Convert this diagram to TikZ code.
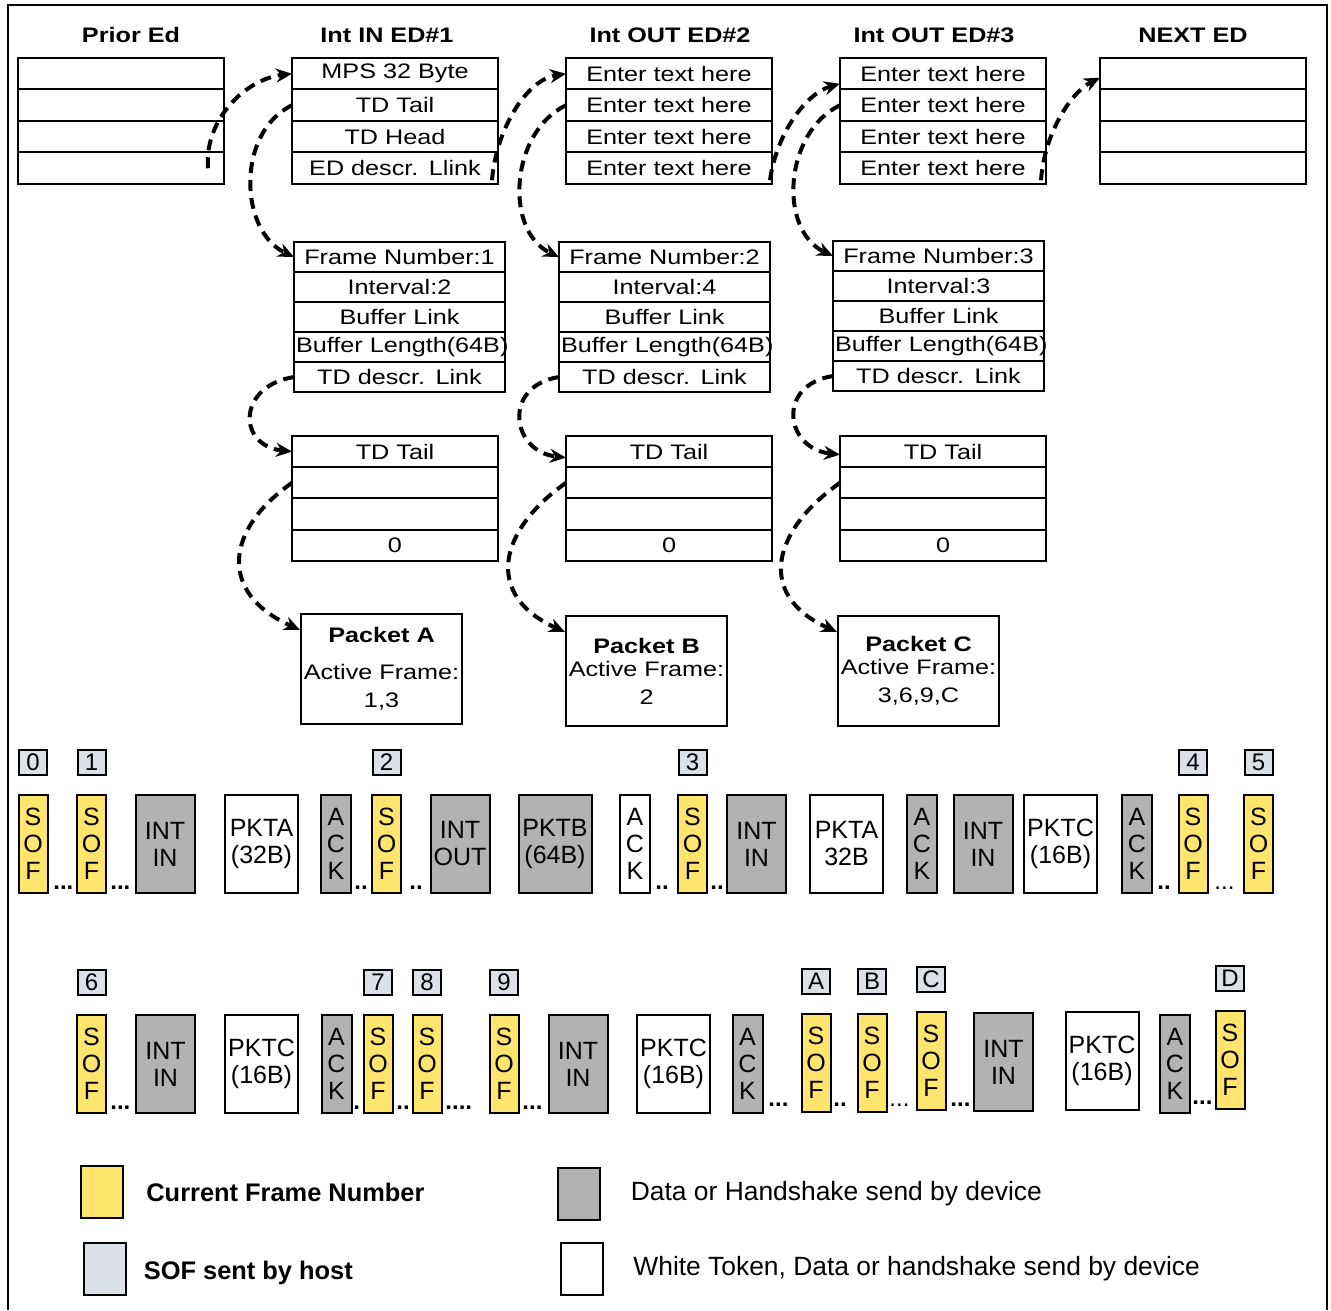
\documentclass[tikz,border=0pt]{standalone}
\usepackage{fontspec}
\setmainfont{Liberation Sans}
\newfontfamily\widefont[FakeStretch=1.2]{Liberation Sans}
\usepackage{tikz}
\usetikzlibrary{arrows.meta,positioning}

\definecolor{curyellow}{RGB}{255,228,110}
\definecolor{devgray}{RGB}{178,178,178}
\definecolor{hostgray}{RGB}{220,225,232}

\begin{document}
\begin{tikzpicture}[
                x=0.5pt, y=-0.5pt,
                font=\widefont\fontsize{10.5}{14}\selectfont,
                edrow/.style={draw, line width=1pt, outer sep=0pt, inner xsep=1pt, inner ysep=0pt, text width=101pt, align=center, minimum height=15.75pt},
                tdrow/.style={edrow, text width=103.5pt, minimum height=15pt},
                tailrow/.style={edrow, minimum height=15.6pt},
                edtitle/.style={font=\widefont\bfseries\fontsize{10.5}{12}\selectfont},
                pkt/.style={draw, line width=1pt, anchor=north west, minimum width=80.5pt, minimum height=55pt, text width=78.5pt, inner xsep=1pt, align=center},
                link/.style={-{Stealth[length=8pt,width=7pt]}, line width=2pt, dash pattern=on 5.5pt off 3.5pt},
                slot/.style={draw, line width=1pt, outer sep=0pt, inner sep=0pt, minimum height=49pt, align=center, font=\fontsize{12.5}{13.5}\selectfont},
                sofbox/.style={slot, fill=curyellow, minimum width=14.5pt},
                devbox/.style={slot, fill=devgray},
                tokbox/.style={slot, fill=white},
                ackw/.style={minimum width=15pt},
                intw/.style={minimum width=29.5pt},
                pktw/.style={minimum width=36.5pt},
                frameno/.style={draw, line width=1pt, fill=hostgray, minimum width=14pt, minimum height=12.5pt, inner sep=0pt, font=\fontsize{12}{12}\selectfont},
                idle/.style={anchor=base west, inner sep=0pt, font=\bfseries\fontsize{12}{12}\selectfont},
                swatch/.style={draw, line width=1pt, minimum width=21pt, minimum height=26pt},
                keytext/.style={inner sep=0pt, font=\fontsize{13.2}{15}\selectfont},
                keybold/.style={inner sep=0pt, font=\bfseries\fontsize{12.7}{15}\selectfont}
            ]
            \useasboundingbox (0,0) rectangle (1331,1310);
            \draw[line width=0.75pt] (8,1310) -- (8,5) -- (1327,5) -- (1327,1310);

            % endpoint descriptors
            \node[edtitle] (tprior) at (131,35) {Prior Ed};
            \node[edtitle] (tin) at (387,35) {Int IN ED\#1};
            \node[edtitle] (touta) at (670,35) {Int OUT ED\#2};
            \node[edtitle] (toutb) at (934,35) {Int OUT ED\#3};
            \node[edtitle] (tnext) at (1193,35) {NEXT ED};

            \node[edrow, anchor=north west] (prior1) at (18,58) {};
            \node[edrow, below=0pt of prior1] (prior2) {};
            \node[edrow, below=0pt of prior2] (prior3) {};
            \node[edrow, below=0pt of prior3] (prior4) {};

            \node[edrow, anchor=north west] (in1) at (292,58) {MPS 32 Byte};
            \node[edrow, below=0pt of in1] (in2) {TD Tail};
            \node[edrow, below=0pt of in2] (in3) {TD Head};
            \node[edrow, below=0pt of in3] (in4) {ED descr. Llink};

            \node[edrow, anchor=north west] (outa1) at (566,58) {Enter text here};
            \node[edrow, below=0pt of outa1] (outa2) {Enter text here};
            \node[edrow, below=0pt of outa2] (outa3) {Enter text here};
            \node[edrow, below=0pt of outa3] (outa4) {Enter text here};

            \node[edrow, anchor=north west] (outb1) at (840,58) {Enter text here};
            \node[edrow, below=0pt of outb1] (outb2) {Enter text here};
            \node[edrow, below=0pt of outb2] (outb3) {Enter text here};
            \node[edrow, below=0pt of outb3] (outb4) {Enter text here};

            \node[edrow, anchor=north west] (next1) at (1100,58) {};
            \node[edrow, below=0pt of next1] (next2) {};
            \node[edrow, below=0pt of next2] (next3) {};
            \node[edrow, below=0pt of next3] (next4) {};

            % transfer descriptors
            \node[tdrow, anchor=north west] (tdA1) at (294,242) {Frame Number:1};
            \node[tdrow, below=0pt of tdA1] (tdA2) {Interval:2};
            \node[tdrow, below=0pt of tdA2] (tdA3) {Buffer Link};
            \node[tdrow, below=0pt of tdA3] (tdA4) {\mbox{Buffer Length(64B)}};
            \node[tdrow, below=0pt of tdA4] (tdA5) {TD descr. Link};

            \node[tdrow, anchor=north west] (tdB1) at (559,242) {Frame Number:2};
            \node[tdrow, below=0pt of tdB1] (tdB2) {Interval:4};
            \node[tdrow, below=0pt of tdB2] (tdB3) {Buffer Link};
            \node[tdrow, below=0pt of tdB3] (tdB4) {\mbox{Buffer Length(64B)}};
            \node[tdrow, below=0pt of tdB4] (tdB5) {TD descr. Link};

            \node[tdrow, anchor=north west] (tdC1) at (833,241) {Frame Number:3};
            \node[tdrow, below=0pt of tdC1] (tdC2) {Interval:3};
            \node[tdrow, below=0pt of tdC2] (tdC3) {Buffer Link};
            \node[tdrow, below=0pt of tdC3] (tdC4) {\mbox{Buffer Length(64B)}};
            \node[tdrow, below=0pt of tdC4] (tdC5) {TD descr. Link};

            \node[tailrow, anchor=north west] (tailA1) at (292,436) {TD Tail};
            \node[tailrow, below=0pt of tailA1] (tailA2) {};
            \node[tailrow, below=0pt of tailA2] (tailA3) {};
            \node[tailrow, below=0pt of tailA3] (tailA4) {0};

            \node[tailrow, anchor=north west] (tailB1) at (566,436) {TD Tail};
            \node[tailrow, below=0pt of tailB1] (tailB2) {};
            \node[tailrow, below=0pt of tailB2] (tailB3) {};
            \node[tailrow, below=0pt of tailB3] (tailB4) {0};

            \node[tailrow, anchor=north west] (tailC1) at (840,436) {TD Tail};
            \node[tailrow, below=0pt of tailC1] (tailC2) {};
            \node[tailrow, below=0pt of tailC2] (tailC3) {};
            \node[tailrow, below=0pt of tailC3] (tailC4) {0};

            \node[pkt] (pktA) at (300,613) {\textbf{Packet A}\\[4.5pt]Active Frame:\\1,3};
            \node[pkt] (pktB) at (565,615) {\textbf{Packet B}\\[-2.5pt]Active Frame:\\2};
            \node[pkt] (pktC) at (837,615) {\textbf{Packet C}\\[-2.5pt]Active Frame:\\3,6,9,C};

            % pointers
            \draw[link] ([xshift=-8pt]prior4.east) .. controls +(-4,-50) and +(-45,5) .. (in1.west);
            \draw[link] (in2.west) .. controls +(-56,27) and +(-55,-26) .. (tdA1.west);
            \draw[link] ([xshift=-3pt,yshift=-6pt]in4.east) .. controls +(4,-50) and +(-40,6) .. (outa1.west);
            \draw[link] (outa2.west) .. controls +(-56,27) and +(-55,-26) .. (tdB1.west);
            \draw[link] ([xshift=-1pt,yshift=-6pt]outa4.east) .. controls +(6,-45) and +(-35,10) .. ([yshift=-5pt]outb1.west);
            \draw[link] (outb2.west) .. controls +(-56,27) and +(-55,-26) .. (tdC1.west);
            \draw[link] ([xshift=-2.5pt,yshift=-6pt]outb4.east) .. controls +(3,-45) and +(-30,15) .. ([yshift=-2pt]next1.west);
            \draw[link] (tdA5.west) .. controls +(-57,9) and +(-55,-6) .. (tailA1.west);
            \draw[link] (tdB5.west) .. controls +(-57,9) and +(-55,-6) .. ([yshift=-3pt]tailB1.west);
            \draw[link] (tdC5.west) .. controls +(-57,9) and +(-55,-6) .. ([yshift=-1.5pt]tailC1.west);
            \draw[link] (tailA2.west) .. controls +(-67,47) and +(-82,-37) .. ([yshift=-8.5pt]pktA.north west);
            \draw[link] (tailB2.west) .. controls +(-67,47) and +(-82,-37) .. ([yshift=-8.5pt]pktB.north west);
            \draw[link] (tailC2.west) .. controls +(-67,47) and +(-82,-37) .. ([yshift=-8.5pt]pktC.north west);

            % bus timeline, first row
            \node[sofbox] (sof0) at (33,844) {S\\O\\F};
            \node[sofbox] (sof1) at (91.5,844) {S\\O\\F};
            \node[devbox, intw] (intin1) at (165,844) {INT\\IN};
            \node[tokbox, pktw] (pkta1) at (261.5,844) {PKTA\\(32B)};
            \node[devbox, ackw] (ack1) at (336,844) {A\\C\\K};
            \node[sofbox] (sof2) at (386.5,844) {S\\O\\F};
            \node[devbox, intw] (intout) at (460,844) {INT\\OUT};
            \node[devbox, pktw] (pktb1) at (555,844) {PKTB\\(64B)};
            \node[tokbox, ackw] (ack2) at (635,844) {A\\C\\K};
            \node[sofbox] (sof3) at (692.5,844) {S\\O\\F};
            \node[devbox, intw] (intin2) at (756.5,844) {INT\\IN};
            \node[tokbox, pktw] (pkta2) at (846.5,844) {PKTA\\32B};
            \node[devbox, ackw] (ack3) at (922,844) {A\\C\\K};
            \node[devbox, intw] (intin3) at (983,844) {INT\\IN};
            \node[tokbox, pktw] (pktc1) at (1060.5,844) {PKTC\\(16B)};
            \node[devbox, ackw] (ack4) at (1137,844) {A\\C\\K};
            \node[sofbox] (sof4) at (1193,844) {S\\O\\F};
            \node[sofbox] (sof5) at (1258.5,844) {S\\O\\F};

            \node[frameno, above=9.5pt of sof0] (n0) {0};
            \node[frameno, above=9.5pt of sof1] (n1) {1};
            \node[frameno, above=9.5pt of sof2] (n2) {2};
            \node[frameno, above=9.5pt of sof3] (n3) {3};
            \node[frameno, above=9.5pt of sof4] (n4) {4};
            \node[frameno, above=9.5pt of sof5] (n5) {5};

            \node[idle] (r1d1) at (53,889) {...};
            \node[idle] (r1d2) at (110,889) {...};
            \node[idle] (r1d3) at (354,889) {..};
            \node[idle] (r1d4) at (409,889) {..};
            \node[idle] (r1d5) at (655,889) {..};
            \node[idle] (r1d6) at (710,889) {..};
            \node[idle] (r1d7) at (1157,889) {..};
            \node[idle, font=\fontsize{12}{12}\selectfont] (r1d8) at (1214,889) {...};

            % bus timeline, second row
            \node[sofbox] (sof6) at (91.5,1064) {S\\O\\F};
            \node[devbox, intw] (intin4) at (165.5,1064) {INT\\IN};
            \node[tokbox, pktw] (pktc2) at (261.5,1064) {PKTC\\(16B)};
            \node[devbox, ackw] (ack5) at (336.5,1064) {A\\C\\K};
            \node[sofbox] (sof7) at (378,1064) {S\\O\\F};
            \node[sofbox] (sof8) at (427,1064) {S\\O\\F};
            \node[sofbox] (sof9) at (504,1064) {S\\O\\F};
            \node[devbox, intw] (intin5) at (578,1064) {INT\\IN};
            \node[tokbox, pktw] (pktc3) at (673.5,1064) {PKTC\\(16B)};
            \node[devbox, ackw] (ack6) at (747.5,1064) {A\\C\\K};
            \node[sofbox] (sofA) at (816,1063) {S\\O\\F};
            \node[sofbox] (sofB) at (872,1063) {S\\O\\F};
            \node[sofbox] (sofC) at (931,1060.5) {S\\O\\F};
            \node[devbox, intw] (intin6) at (1003.5,1062) {INT\\IN};
            \node[tokbox, pktw] (pktc4) at (1102,1061) {PKTC\\(16B)};
            \node[devbox, ackw] (ack7) at (1175,1064) {A\\C\\K};
            \node[sofbox] (sofD) at (1230,1059.5) {S\\O\\F};

            \node[frameno, above=9.5pt of sof6] (n6) {6};
            \node[frameno, above=9.5pt of sof7] (n7) {7};
            \node[frameno, above=9.5pt of sof8] (n8) {8};
            \node[frameno, above=9.5pt of sof9] (n9) {9};
            \node[frameno, above=9.5pt of sofA] (nA) {A};
            \node[frameno, above=9.5pt of sofB] (nB) {B};
            \node[frameno, above=9.5pt of sofC] (nC) {C};
            \node[frameno, above=9.5pt of sofD] (nD) {D};

            \node[idle] (r2d1) at (110,1109) {...};
            \node[idle] (r2d2) at (353,1109) {.};
            \node[idle] (r2d3) at (396,1109) {..};
            \node[idle] (r2d4) at (445,1109) {....};
            \node[idle] (r2d5) at (522,1109) {...};
            \node[idle] (r2d6) at (768,1106) {...};
            \node[idle] (r2d7) at (833,1106) {..};
            \node[idle, font=\fontsize{12}{12}\selectfont] (r2d8) at (889,1106) {...};
            \node[idle] (r2d9) at (950,1106) {...};
            \node[idle] (r2d10) at (1192,1104) {...};

            % legend
            \node[swatch, fill=curyellow] (keycur) at (102,1192) {};
            \node[keybold, right=11pt of keycur] (txtcur) {Current Frame Number};
            \node[swatch, fill=hostgray] (keyhost) at (104.5,1269) {};
            \node[keybold, right=8.5pt of keyhost, yshift=-2pt] (txthost) {SOF sent by host};
            \node[swatch, fill=devgray] (keydev) at (578.5,1194) {};
            \node[keytext, right=15pt of keydev] (txtdev) {Data or Handshake send by device};
            \node[swatch, fill=white] (keytok) at (582,1269) {};
            \node[keytext, right=14.5pt of keytok] (txttok) {White Token, Data or handshake send by device};
        \end{tikzpicture}
\end{document}
